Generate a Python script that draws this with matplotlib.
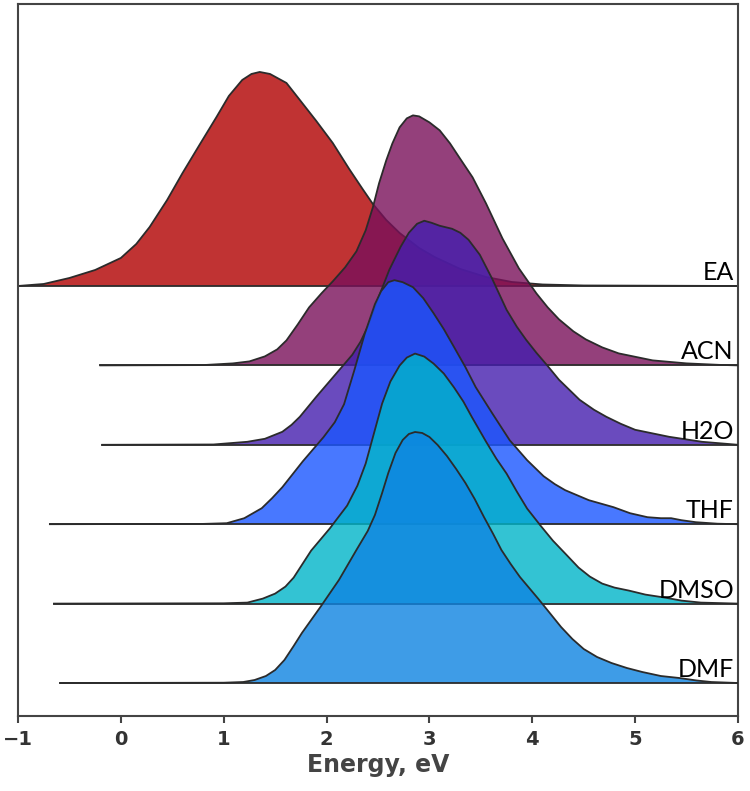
import matplotlib
matplotlib.use('Agg')
import matplotlib.pyplot as plt

# ridge data: energy (eV) and density height
solvents = ['EA', 'ACN', 'H2O', 'THF', 'DMSO', 'DMF']

ea_x = [-1.0, -0.75, -0.5, -0.25, 0.0, 0.15, 0.28, 0.45, 0.6, 0.77, 0.93, 1.05, 1.18, 1.27, 1.35, 1.45, 1.61, 1.74, 1.9, 2.06,
        2.22, 2.35, 2.45, 2.58, 2.71, 2.9, 3.05, 3.3, 3.55, 3.8, 4.1, 4.5, 6.0]
ea_y = [0, 0.02, 0.08, 0.16, 0.28, 0.42, 0.59, 0.86, 1.13, 1.42, 1.69, 1.9, 2.06, 2.12, 2.14, 2.12, 2.03, 1.86, 1.65, 1.43,
        1.17, 0.97, 0.82, 0.66, 0.53, 0.38, 0.29, 0.17, 0.09, 0.04, 0.015, 0.005, 0]

acn_x = [-0.2, 0.8, 1.09, 1.25, 1.4, 1.52, 1.61, 1.72, 1.83, 1.95, 2.06, 2.18, 2.29, 2.38, 2.45, 2.51, 2.58, 2.64, 2.71, 2.78,
         2.84, 2.9, 3.0, 3.1, 3.2, 3.29, 3.42, 3.55, 3.71, 3.87, 4.04, 4.15, 4.26, 4.4, 4.52, 4.68, 4.84, 5.17, 5.5, 5.82, 6.0]
acn_y = [0, 0.003, 0.02, 0.04, 0.09, 0.16, 0.25, 0.41, 0.58, 0.72, 0.84, 0.98, 1.14, 1.35, 1.58, 1.82, 2.05, 2.22, 2.38, 2.47,
         2.50, 2.49, 2.43, 2.35, 2.22, 2.08, 1.88, 1.62, 1.27, 0.97, 0.72, 0.58, 0.46, 0.34, 0.26, 0.18, 0.12, 0.05, 0.02, 0.005, 0]

h2o_x = [-0.18, 0.9, 1.23, 1.4, 1.57, 1.66, 1.74, 1.9, 2.1, 2.25, 2.33, 2.4, 2.5, 2.61, 2.72, 2.8, 2.88, 2.95, 3.02, 3.1,
         3.22, 3.3, 3.38, 3.49, 3.61, 3.75, 3.85, 3.94, 4.04, 4.14, 4.26, 4.36, 4.46, 4.6, 4.72, 4.86, 5.0, 5.33, 5.65, 6.0]
h2o_y = [0, 0.003, 0.03, 0.06, 0.13, 0.2, 0.28, 0.48, 0.72, 0.9, 1.03, 1.18, 1.46, 1.75, 1.98, 2.12, 2.21, 2.24, 2.22, 2.19,
         2.16, 2.12, 2.05, 1.9, 1.66, 1.35, 1.18, 1.05, 0.92, 0.8, 0.65, 0.55, 0.45, 0.35, 0.28, 0.21, 0.15, 0.08, 0.03, 0]

thf_x = [-0.69, 0.8, 1.03, 1.2, 1.37, 1.47, 1.57, 1.77, 1.97, 2.08, 2.17, 2.27, 2.37, 2.47, 2.53, 2.6, 2.66, 2.74, 2.84, 2.94,
         3.04, 3.14, 3.24, 3.35, 3.45, 3.61, 3.78, 3.95, 4.11, 4.22, 4.32, 4.55, 4.79, 4.95, 5.12, 5.25, 5.35, 5.45, 5.59, 5.8, 6.0]
thf_y = [0, 0.003, 0.01, 0.06, 0.16, 0.26, 0.37, 0.63, 0.87, 1.02, 1.2, 1.54, 1.9, 2.2, 2.33, 2.42, 2.44, 2.42, 2.37, 2.26,
         2.11, 1.95, 1.77, 1.57, 1.37, 1.11, 0.84, 0.64, 0.48, 0.4, 0.34, 0.24, 0.17, 0.11, 0.07, 0.06, 0.06, 0.04, 0.02, 0.005, 0]

dmso_x = [-0.65, 1.0, 1.23, 1.38, 1.5, 1.6, 1.68, 1.85, 2.03, 2.2, 2.3, 2.38, 2.46, 2.54, 2.62, 2.71, 2.78, 2.86, 2.95, 3.04,
          3.14, 3.24, 3.33, 3.41, 3.55, 3.65, 3.75, 3.85, 3.95, 4.08, 4.2, 4.33, 4.45, 4.56, 4.68, 4.8, 4.94, 5.1, 5.29, 5.45, 5.64, 6.0]
dmso_y = [0, 0.003, 0.01, 0.05, 0.1, 0.17, 0.26, 0.53, 0.75, 0.98, 1.18, 1.4, 1.7, 2.0, 2.22, 2.38, 2.46, 2.5, 2.47, 2.4,
          2.3, 2.16, 2.02, 1.87, 1.62, 1.45, 1.3, 1.12, 0.95, 0.78, 0.63, 0.49, 0.36, 0.27, 0.2, 0.16, 0.13, 0.09, 0.06, 0.03, 0.01, 0]

dmf_x = [-0.59, 1.0, 1.19, 1.3, 1.41, 1.5, 1.59, 1.68, 1.76, 1.94, 2.12, 2.29, 2.4, 2.47, 2.54, 2.6, 2.67, 2.74, 2.8, 2.86,
         2.93, 3.0, 3.08, 3.17, 3.26, 3.35, 3.44, 3.53, 3.62, 3.7, 3.79, 3.88, 3.97, 4.06, 4.17, 4.28, 4.39, 4.5, 4.63, 4.77,
         4.92, 5.07, 5.25, 5.43, 5.6, 5.74, 6.0]
dmf_y = [0, 0.003, 0.01, 0.03, 0.07, 0.13, 0.23, 0.37, 0.5, 0.76, 1.03, 1.33, 1.52, 1.68, 1.9, 2.1, 2.3, 2.43, 2.49, 2.51,
         2.5, 2.46, 2.38, 2.27, 2.14, 2.0, 1.84, 1.66, 1.49, 1.33, 1.19, 1.06, 0.95, 0.84, 0.7, 0.56, 0.44, 0.34, 0.26, 0.2,
         0.15, 0.11, 0.07, 0.05, 0.025, 0.01, 0]

xs = [ea_x, acn_x, h2o_x, thf_x, dmso_x, dmf_x]
ys = [ea_y, acn_y, h2o_y, thf_y, dmso_y, dmf_y]
colors = ['#b10000', '#79105a', '#451eae', '#1a56ff', '#00b5c9', '#0e84e2']

spacing = 0.794

fig = plt.figure(figsize=(7.5, 7.91), dpi=100)
ax = fig.add_axes([0.024, 0.0948, 0.96, 0.9002])

n = len(solvents)
for i in range(n):
    base = (n - 1 - i) * spacing
    top = [base + v for v in ys[i]]
    ax.fill_between(xs[i], base, top, facecolor=colors[i], alpha=0.8,
                    edgecolor='none', zorder=2 * i + 1)
    ax.plot(xs[i], top, color='#2b2b2b', lw=1.3, solid_joinstyle='round', zorder=2 * i + 2)
    ax.plot([xs[i][0], 6.0], [base, base], color='#2b2b2b', lw=1.3, zorder=2 * i + 2)
    ax.text(5.96, base + 0.02, solvents[i], ha='right', va='bottom',
            fontsize=18, family='Lato', color='black', zorder=20)

ax.set_xlim(-1, 6)
ax.set_ylim(-0.33, 6.79)
ax.set_yticks([])
ax.set_xticks(range(-1, 7))
ax.set_xticklabels(['\u22121', '0', '1', '2', '3', '4', '5', '6'])
for lab in ax.get_xticklabels():
    lab.set_fontweight('bold')
    lab.set_fontsize(14)
    lab.set_family('DejaVu Sans')
    lab.set_color('#333333')
ax.tick_params(axis='x', direction='out', length=5, width=1.5, color='#444444', pad=5)
for s in ax.spines.values():
    s.set_color('#444444')
    s.set_linewidth(1.5)
ax.set_xlabel('Energy, eV', fontsize=17, fontweight='bold', family='DejaVu Sans',
              color='#444444', labelpad=3)

fig.savefig('out.png', dpi=100)
